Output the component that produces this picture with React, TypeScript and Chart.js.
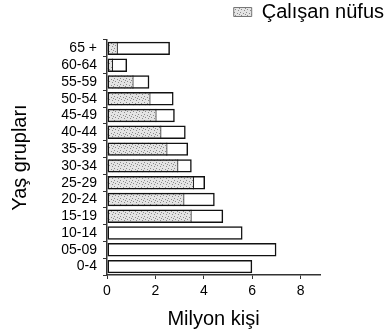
import { useEffect, useRef } from 'react';
import { Chart, registerables } from 'chart.js';

Chart.register(...registerables);

// Age groups, top to bottom as in the reference
const ageGroups = ['65 +', '60-64', '55-59', '50-54', '45-49', '40-44', '35-39', '30-34', '25-29', '20-24', '15-19', '10-14', '05-09', '0-4'];
// Total population per group (million people)
const totalPopulation = [2.6, 0.83, 1.75, 2.75, 2.8, 3.25, 3.35, 3.5, 4.05, 4.45, 4.8, 5.6, 7.0, 6.0];
// Working population per group (million people)
const workingPopulation = [0.45, 0.25, 1.1, 1.8, 2.05, 2.25, 2.5, 2.95, 3.6, 3.2, 3.5, 0, 0, 0];
// X axis tick values
const xTicks = [0, 2, 4, 6, 8];

const legendLabel = 'Çalışan nüfus';
const xAxisTitle = 'Milyon kişi';
const yAxisTitle = 'Yaş grupları';
const xMin = 0;
const xMax = 8.8;

const FONT = 'Liberation Sans, Arial, Helvetica, sans-serif';

function makeStipple(): CanvasPattern | string {
  const c = document.createElement('canvas');
  c.width = 6;
  c.height = 6;
  const g = c.getContext('2d');
  if (!g) return '#dddddd';
  g.fillStyle = '#e4e4e4';
  g.fillRect(0, 0, 6, 6);
  g.fillStyle = '#8a8a8a';
  const dots = [[0, 0], [3, 1], [1, 3], [4, 4], [5, 2]];
  for (const [x, y] of dots) g.fillRect(x, y, 1, 1);
  return g.createPattern(c, 'repeat') ?? '#dddddd';
}

export default function App() {
  const canvasRef = useRef<HTMLCanvasElement | null>(null);

  useEffect(() => {
    document.body.style.margin = '0';
    const canvas = canvasRef.current;
    if (!canvas) return;
    const stipple = makeStipple();

    const legendSpacer = {
      id: 'legendSpacer',
      beforeInit(chart: any) {
        const leg = chart.legend;
        if (!leg || leg._spaced) return;
        const fit = leg.fit;
        leg.fit = function () {
          fit.call(this);
          this.height += 8;
        };
        leg._spaced = true;
      },
    };

    const chart = new Chart(canvas, {
      type: 'bar',
      data: {
        labels: ageGroups,
        datasets: [
          {
            label: 'Toplam nüfus',
            data: totalPopulation,
            backgroundColor: 'rgba(0,0,0,0)',
            borderColor: '#111111',
            borderWidth: 1.5,
            borderSkipped: false,
            grouped: false,
            barPercentage: 0.8,
            categoryPercentage: 1,
          } as any,
          {
            label: legendLabel,
            data: workingPopulation,
            backgroundColor: stipple as any,
            borderColor: '#222222',
            borderWidth: { top: 0, bottom: 0, left: 0, right: 1.2 },
            borderSkipped: false,
            grouped: false,
            barPercentage: 0.8,
            categoryPercentage: 1,
          } as any,
        ],
      },
      options: {
        indexAxis: 'y',
        animation: false,
        responsive: false,
        maintainAspectRatio: false,
        layout: { padding: 0 },
        plugins: {
          tooltip: { enabled: false },
          legend: {
            display: true,
            position: 'top',
            align: 'end',
            labels: {
              font: { size: 20, family: FONT },
              color: '#000000',
              boxWidth: 18,
              boxHeight: 9,
              padding: 2,
              generateLabels: () => [
                {
                  text: legendLabel,
                  fillStyle: stipple as any,
                  strokeStyle: '#777777',
                  lineWidth: 1,
                  hidden: false,
                  datasetIndex: 1,
                },
              ],
            },
          },
        },
        scales: {
          x: {
            type: 'linear',
            min: xMin,
            max: xMax,
            afterBuildTicks: (s: any) => {
              s.ticks = xTicks.map((v) => ({ value: v }));
            },
            afterFit: (s: any) => {
              s.height = 60;
            },
            ticks: {
              autoSkip: false,
              padding: 4,
              color: '#000000',
              font: { size: 14, family: FONT },
            },
            grid: {
              display: true,
              drawOnChartArea: false,
              drawTicks: true,
              tickLength: 4,
              color: '#333333',
              lineWidth: 1,
            },
            border: { display: true, color: '#333333', width: 1.5 },
            title: {
              display: true,
              text: xAxisTitle,
              color: '#000000',
              font: { size: 20, family: FONT },
              padding: { top: 0, bottom: 4 },
            },
          },
          y: {
            type: 'category',
            position: 'left',
            afterFit: (s: any) => {
              s.width = 107;
            },
            ticks: {
              autoSkip: false,
              padding: 6,
              color: '#000000',
              font: { size: 14, family: FONT },
            },
            grid: {
              display: true,
              drawOnChartArea: false,
              drawTicks: true,
              tickLength: 4,
              offset: true,
              color: '#333333',
              lineWidth: 1,
            },
            border: { display: true, color: '#333333', width: 1.5 },
            title: {
              display: true,
              text: yAxisTitle,
              color: '#000000',
              font: { size: 20, family: FONT },
              padding: { top: 8, bottom: 0 },
            },
          },
          yRight: {
            type: 'category',
            position: 'right',
            labels: ageGroups,
            afterFit: (s: any) => {
              s.width = 66;
            },
            ticks: { display: false },
            grid: { display: false },
            border: { display: false },
          },
        },
      },
      plugins: [legendSpacer],
    });

    return () => {
      chart.destroy();
    };
  }, []);

  return (
    <div style={{ width: 386, height: 335 }}>
      <canvas ref={canvasRef} width={386} height={335} style={{ display: 'block' }} />
    </div>
  );
}
